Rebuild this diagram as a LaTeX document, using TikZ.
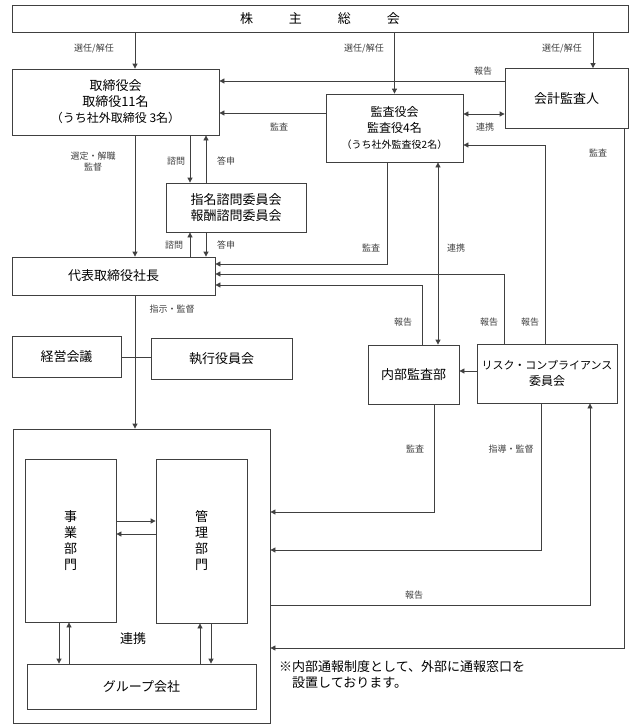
\documentclass[tikz,border=0pt]{standalone}
\usepackage{fontspec}
\setmainfont{Noto Sans CJK JP}
\usetikzlibrary{arrows.meta,positioning}
\newcommand{\boxfont}{\fontsize{13pt}{16pt}\selectfont}
\newcommand{\lblfont}{\fontsize{9pt}{11pt}\selectfont}

\begin{document}
\begin{tikzpicture}[x=1pt,y=-1pt,
  box/.style={draw=black!75,line width=0.8pt,inner sep=0pt,align=center,font=\boxfont},
  lbl/.style={font=\lblfont,text=black!75,inner sep=0pt,align=center},
  conn/.style={draw=black!75,line width=0.8pt},
  >={Triangle[length=5pt,width=5pt]}]
\useasboundingbox (0,0) rectangle (633,726);
% boxes
\node[box,minimum width=616,minimum height=27] (kabu) at (320,18.5) {株\hspace{36pt}主\hspace{36pt}総\hspace{36pt}会};
\node[box,minimum width=207,minimum height=66] (tori) at (115.5,102) {取締役会\\取締役11名\\{\fontsize{12pt}{15pt}\selectfont （うち社外取締役 3名）}};
\node[box,minimum width=123,minimum height=60] (kaikei) at (566.5,98.5) {会計監査人};
\node[box,minimum width=137,minimum height=68] (kansa) at (394.5,128) {\fontsize{12pt}{15pt}\selectfont 監査役会\\\fontsize{12pt}{15pt}\selectfont 監査役4名\\\fontsize{10pt}{13pt}\selectfont （うち社外監査役2名）};
\node[box,minimum width=140,minimum height=49] (shimei) at (236,207.5) {指名諮問委員会\\報酬諮問委員会};
\node[box,minimum width=203,minimum height=38] (shacho) at (113.5,276) {代表取締役社長};
\node[box,minimum width=109,minimum height=41] (keiei) at (66.5,356.5) {経営会議};
\node[box,minimum width=141,minimum height=41] (shikko) at (221.5,358.5) {執行役員会};
\node[box,minimum width=91,minimum height=59] (naibu) at (413.5,374.5) {内部監査部};
\node[box,minimum width=140,minimum height=59] (risk) at (547,373.5) {\fontsize{11pt}{14pt}\selectfont リスク・コンプライアンス\\\fontsize{12pt}{14pt}\selectfont 委員会};
\node[box,minimum width=257,minimum height=294] (big) at (141.5,576) {};
\node[box,minimum width=91,minimum height=163,font=\fontsize{13pt}{16pt}\selectfont] (jigyo) at (70.5,540.5) {事\\業\\部\\門};
\node[box,minimum width=91,minimum height=164,font=\fontsize{13pt}{16pt}\selectfont] (kanri) at (201.5,541) {管\\理\\部\\門};
\node[box,minimum width=229,minimum height=45] (group) at (141.5,686.5) {グループ会社};

% connectors
\draw[conn,->] (kabu.south -| 135,0) -- (tori.north -| 135,0);
\draw[conn,->] (kabu.south -| kansa.north) -- (kansa.north);
\draw[conn,->] (kabu.south -| 593,0) -- (kaikei.north -| 593,0);
\draw[conn,->] (kaikei.west |- 0,81) -- (tori.east |- 0,81);
\draw[conn,->] (kansa.west |- 0,113) -- (tori.east |- 0,113);
\draw[conn,<->] (kansa.east |- 0,114) -- (kaikei.west |- 0,114);
\draw[conn,->] (kaikei.south -| 624,0) |- (big.east |- 0,648);
\draw[conn,->] (risk.north -| 545,0) |- (kansa.east |- 0,145);
\draw[conn,->] (tori.south -| 190,0) -- (shimei.north -| 190,0);
\draw[conn,->] (shimei.north -| 206,0) -- (tori.south -| 206,0);
\draw[conn,->] (tori.south -| 135,0) -- (shacho.north -| 135,0);
\draw[conn,->] (shacho.north -| 190,0) -- (shimei.south -| 190,0);
\draw[conn,->] (shimei.south -| 206,0) -- (shacho.north -| 206,0);
\draw[conn,->] (kansa.south -| 387,0) |- (shacho.east |- 0,264);
\draw[conn,<->] (kansa.south -| 438,0) -- (naibu.north -| 438,0);
\draw[conn,->] (risk.north -| 504,0) |- (shacho.east |- 0,274);
\draw[conn,->] (naibu.north -| 422,0) |- (shacho.east |- 0,285);
\draw[conn,->] (shacho.south -| 135,0) -- (big.north -| 135,0);
\draw[conn] (keiei.east |- 0,357) -- (shikko.west |- 0,357);
\draw[conn,->] (risk.west |- 0,371) -- (naibu.east |- 0,371);
\draw[conn,->] (naibu.south -| 434,0) |- (big.east |- 0,512);
\draw[conn,->] (risk.south -| 541,0) |- (big.east |- 0,550);
\draw[conn,->] (big.east |- 0,605) -| (risk.south -| 590,0);
\draw[conn,->] (jigyo.east |- 0,521) -- (kanri.west |- 0,521);
\draw[conn,->] (kanri.west |- 0,534) -- (jigyo.east |- 0,534);
\draw[conn,->] (jigyo.south -| 59,0) -- (group.north -| 59,0);
\draw[conn,->] (group.north -| 69,0) -- (jigyo.south -| 69,0);
\draw[conn,->] (group.north -| 200,0) -- (kanri.south -| 200,0);
\draw[conn,->] (kanri.south -| 211,0) -- (group.north -| 211,0);

% labels
\node[lbl] (sen1) at (94,49) {選任/解任};
\node[lbl] (sen2) at (364,49) {選任/解任};
\node[lbl] (sen3) at (562,49) {選任/解任};
\node[lbl] (hok1) at (483,71) {報告};
\node[lbl] (kan1) at (279,127) {監査};
\node[lbl] (ren1) at (485,127) {連携};
\node[lbl] (kan2) at (598,153) {監査};
\node[lbl] (sentei) at (93,162) {選定・解職\\監督};
\node[lbl] (shi1) at (176,161) {諮問};
\node[lbl] (tou1) at (226,161) {答申};
\node[lbl] (shi2) at (174,245) {諮問};
\node[lbl] (tou2) at (226,245) {答申};
\node[lbl] (kan3) at (371,248) {監査};
\node[lbl] (ren2) at (456,248) {連携};
\node[lbl] (shiji) at (172,309) {指示・監督};
\node[lbl] (hok2) at (403,322) {報告};
\node[lbl] (hok3) at (489,322) {報告};
\node[lbl] (hok4) at (530,322) {報告};
\node[lbl] (kan4) at (415,449) {監査};
\node[lbl] (shido) at (511,449) {指導・監督};
\node[lbl] (hok5) at (414,595) {報告};
\node[font=\boxfont,inner sep=0pt] (ren3) at (133,639) {連携};
\node[font=\boxfont,inner sep=0pt,align=left,anchor=north west] (note) at (279,660) {※内部通報制度として、外部に通報窓口を\\\hspace{1em}設置しております。};
\end{tikzpicture}
\end{document}
